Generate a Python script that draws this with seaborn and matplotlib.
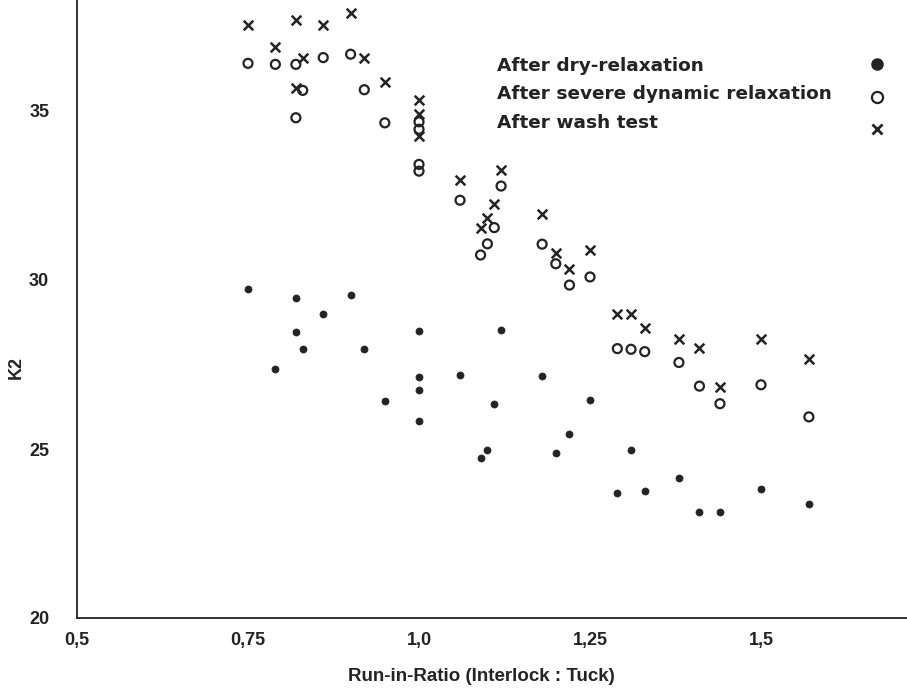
import seaborn as sns
import matplotlib.pyplot as plt
import pandas as pd

# run-in-ratio values (x) and K2 values per treatment
dry_x = [0.75, 0.79, 0.82, 0.82, 0.83, 0.86, 0.90, 0.92, 0.95, 1.00, 1.00, 1.00, 1.00,
         1.06, 1.09, 1.10, 1.11, 1.12, 1.18, 1.20, 1.22, 1.25, 1.29, 1.31, 1.33,
         1.38, 1.41, 1.44, 1.50, 1.57]
dry_k2 = [29.72, 27.38, 29.48, 28.46, 27.95, 29.0, 29.56, 27.95, 26.43, 28.48, 27.14, 26.75, 25.82,
          27.2, 24.73, 24.96, 26.33, 28.52, 27.15, 24.87, 25.44, 26.45, 23.7, 24.97, 23.76,
          24.15, 23.14, 23.14, 23.82, 23.37]

severe_x = [0.75, 0.79, 0.82, 0.82, 0.83, 0.86, 0.90, 0.92, 0.95, 1.00, 1.00, 1.00, 1.00,
            1.06, 1.09, 1.10, 1.11, 1.12, 1.18, 1.20, 1.22, 1.25, 1.29, 1.31, 1.33,
            1.38, 1.41, 1.44, 1.50, 1.57]
severe_k2 = [36.41, 36.38, 36.38, 34.80, 35.61, 36.58, 36.68, 35.63, 34.65, 34.68, 34.46, 33.42, 33.22,
             32.36, 30.74, 31.07, 31.55, 32.78, 31.06, 30.48, 29.85, 30.09, 27.97, 27.95, 27.88,
             27.56, 26.86, 26.34, 26.90, 25.95]

wash_x = [0.75, 0.79, 0.82, 0.82, 0.83, 0.86, 0.90, 0.92, 0.95, 1.00, 1.00, 1.00,
          1.06, 1.09, 1.10, 1.11, 1.12, 1.18, 1.20, 1.22, 1.25, 1.29, 1.31, 1.33,
          1.38, 1.41, 1.44, 1.50, 1.57]
wash_k2 = [37.54, 36.89, 37.69, 35.67, 36.58, 37.54, 37.9, 36.56, 35.87, 35.33, 34.91, 34.26,
           32.96, 31.55, 31.83, 32.24, 33.25, 31.96, 30.81, 30.33, 30.88, 28.99, 28.99, 28.57,
           28.24, 27.99, 26.84, 28.25, 27.66]

labels = ["After dry-relaxation", "After severe dynamic relaxation", "After wash test"]
x_ticks = [0.5, 0.75, 1.0, 1.25, 1.5]
x_ticklabels = ["0,5", "0,75", "1,0", "1,25", "1,5"]
y_ticks = [20, 25, 30, 35]

sns.set_style("white")
plt.rcParams['font.family'] = ['Liberation Sans', 'DejaVu Sans']
plt.rcParams['font.weight'] = 'bold'

ink = "#232323"

fig = plt.figure(figsize=(9.07, 6.91), dpi=100)
ax = fig.add_axes([77 / 907, 73 / 691, 830 / 907, 618 / 691])

dry = pd.DataFrame({"x": dry_x, "k2": dry_k2})
severe = pd.DataFrame({"x": severe_x, "k2": severe_k2})
wash = pd.DataFrame({"x": wash_x, "k2": wash_k2})

sns.scatterplot(data=dry, x="x", y="k2", ax=ax, marker="o", s=26,
                color=ink, edgecolor=ink, linewidth=0.5)
sns.scatterplot(data=severe, x="x", y="k2", ax=ax, marker="o", s=42,
                facecolor="none", edgecolor=ink, linewidth=1.6)
sns.scatterplot(data=wash, x="x", y="k2", ax=ax, marker="x", s=48,
                color=ink, linewidth=1.8)

ax.set_xlim(0.5, 0.5 + 830 / 684)
ax.set_ylim(20, 20 + 618 / 33.8)

ax.set_xticks(x_ticks)
ax.set_xticklabels(x_ticklabels, fontsize=13, fontweight="bold", color=ink)
ax.set_yticks(y_ticks)
ax.set_yticklabels([str(v) for v in y_ticks], fontsize=13, fontweight="bold", color=ink)
ax.tick_params(axis="x", direction="in", length=7, width=1.1, color=ink, pad=10)
ax.tick_params(axis="y", length=0, pad=20)

for side in ["top", "right"]:
    ax.spines[side].set_visible(False)
for side in ["left", "bottom"]:
    ax.spines[side].set_color(ink)
    ax.spines[side].set_linewidth(1.3)

ax.set_xlabel("Run-in-Ratio (Interlock : Tuck)", fontsize=13.5, fontweight="bold",
              color=ink, va="center")
ax.xaxis.set_label_coords((481 - 77) / 830, -0.095)
ax.set_ylabel("K2", fontsize=13, fontweight="bold", color=ink, va="center")
ax.yaxis.set_label_coords(-0.073, 0.405)

# legend: text on the left, markers in a column on the right
text_y = [0.893, 0.848, 0.801]
mark_y = [0.896, 0.843, 0.792]
leg_marks = [dict(marker="o", ms=8, color=ink, mfc=ink, mew=1),
             dict(marker="o", ms=8, color=ink, mfc="none", mew=1.6),
             dict(marker="x", ms=6.5, color=ink, mew=2)]
for lab, ty, my, mk in zip(labels, text_y, mark_y, leg_marks):
    ax.text((497 - 77) / 830, ty, lab, transform=ax.transAxes, fontsize=13.3,
            fontweight="bold", color=ink, va="center", ha="left",
            family=["DejaVu Sans"])
    ax.plot([(877 - 77) / 830], [my], transform=ax.transAxes, ls="none", **mk)

fig.savefig("out.png", dpi=100)
